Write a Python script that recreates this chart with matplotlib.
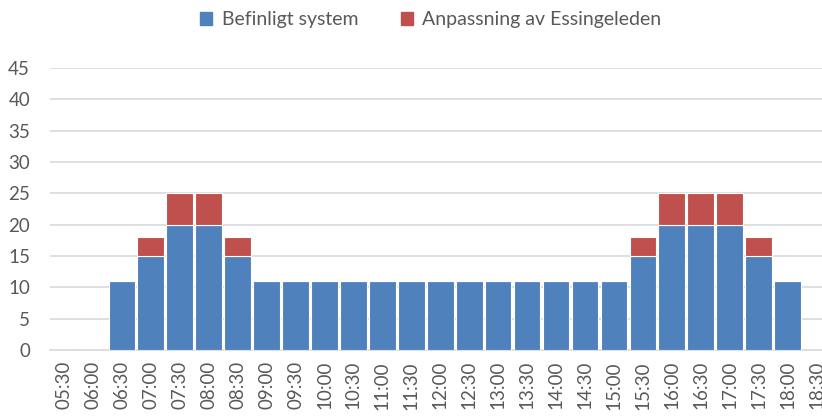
import matplotlib
matplotlib.use("Agg")
import matplotlib.pyplot as plt
from matplotlib.patches import Patch

times = ["05:30", "06:00", "06:30", "07:00", "07:30", "08:00", "08:30", "09:00", "09:30",
         "10:00", "10:30", "11:00", "11:30", "12:00", "12:30", "13:00", "13:30", "14:00",
         "14:30", "15:00", "15:30", "16:00", "16:30", "17:00", "17:30", "18:00", "18:30"]
befintligt = [0, 0, 11, 15, 20, 20, 15, 11, 11, 11, 11, 11, 11, 11, 11, 11, 11, 11,
              11, 11, 15, 20, 20, 20, 15, 11, 0]
anpassning = [0, 0, 0, 3, 5, 5, 3, 0, 0, 0, 0, 0, 0, 0, 0, 0, 0, 0,
              0, 0, 3, 5, 5, 5, 3, 0, 0]
yticks = [0, 5, 10, 15, 20, 25, 30, 35, 40, 45]

blue = "#4F81BD"
red = "#C0504D"
grid = "#D9D9D9"
txt = "#595959"

plt.rcParams['font.family'] = ['Lato', 'DejaVu Sans']

W, H = 822, 416
fig = plt.figure(figsize=(W / 100, H / 100), dpi=100)
left, right = 49.5, 831.0
bottom, top = 350.0, 68.0
ax = fig.add_axes([left / W, 1 - bottom / H, (right - left) / W, (bottom - top) / H])

x = list(range(len(times)))
ax.bar(x, befintligt, width=0.92, color=blue, edgecolor="white", linewidth=0.8, zorder=3)
ax.bar(x, anpassning, bottom=befintligt, width=0.92, color=red, edgecolor="white", linewidth=0.8, zorder=3)

ax.set_xlim(-0.5, len(times) - 0.5)
ax.set_ylim(0, 45)
ax.set_yticks(yticks)
ax.set_xticks(x)
ax.set_xticklabels(times, rotation=90, fontsize=13.5, color=txt)
ax.tick_params(axis='y', labelsize=13.5, colors=txt, length=0, pad=14)
ax.tick_params(axis='x', length=0, pad=8)
ax.yaxis.grid(True, color=grid, linewidth=1.2, zorder=0)
ax.set_axisbelow(True)
for s in ["top", "right", "left"]:
    ax.spines[s].set_visible(False)
ax.spines["bottom"].set_color(grid)
ax.spines["bottom"].set_linewidth(1.2)

handles = [Patch(color=blue, label="Befinligt system"),
           Patch(color=red, label="Anpassning av Essingeleden")]
fig.legend(handles=handles, loc="center", bbox_to_anchor=(431 / W, 1 - 20 / H), ncol=2,
           frameon=False, fontsize=14, labelcolor=txt, handlelength=0.6, handleheight=0.6,
           handletextpad=0.5, columnspacing=2.2)

fig.savefig("out.png", dpi=100)
